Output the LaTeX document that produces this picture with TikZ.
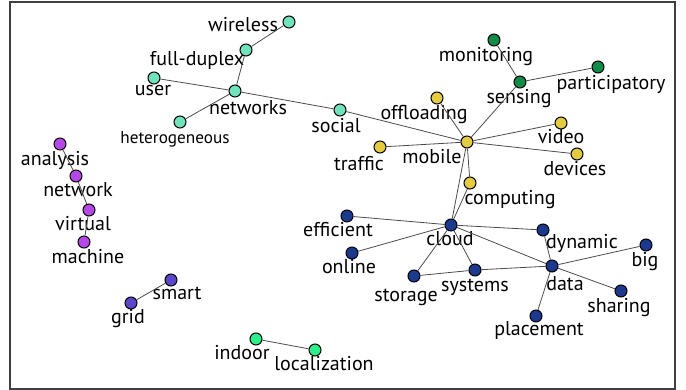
\documentclass[tikz,border=0pt]{standalone}
\usepackage{fontspec}
\setmainfont{PT Sans}
\usepackage{tikz}
\usetikzlibrary{shapes,arrows}

\definecolor{cnet}{HTML}{6FE3BC}
\definecolor{cmob}{HTML}{E3CC3F}
\definecolor{csen}{HTML}{0E8C48}
\definecolor{ccld}{HTML}{1B3A8E}
\definecolor{cvir}{HTML}{B648E8}
\definecolor{cgrd}{HTML}{5B45C8}
\definecolor{cloc}{HTML}{2EF08A}

\begin{document}
\begin{tikzpicture}[x=0.5pt,y=-0.5pt,
    vtx/.style={circle,draw=black,line width=0.5pt,inner sep=0pt,minimum size=6pt},
    word/.style={inner sep=0pt,font=\fontsize{10}{12}\selectfont,text height=1.5ex,text depth=0.25ex},
    edge/.style={draw=black!70,line width=0.4pt}]
    \useasboundingbox (0,0) rectangle (686,390);
    % Draw the frame
    \draw [black!75,line width=0.6pt] (10,2) rectangle (675,389);

    % Draw the networks cluster
    \node [vtx,fill=cnet] (wireless) at (289,22) {};
    \node [vtx,fill=cnet] (fullduplex) at (246,50) {};
    \node [vtx,fill=cnet] (user) at (154,78) {};
    \node [vtx,fill=cnet] (networks) at (235,91) {};
    \node [vtx,fill=cnet] (hetero) at (180,122) {};
    \node [vtx,fill=cnet] (social) at (340,110) {};
    \node [word] (t-wireless) at (243,25) {wireless};
    \node [word] (t-fullduplex) at (197,59) {full-duplex};
    \node [word] (t-user) at (153,89) {user};
    \node [word] (t-networks) at (248,108) {networks};
    \node [word,font=\fontsize{8.6}{10}\selectfont] (t-hetero) at (175,137) {heterogeneous};
    \node [word] (t-social) at (336,126) {social};

    % Draw the virtual machine chain
    \node [vtx,fill=cvir] (analysis) at (60,144) {};
    \node [vtx,fill=cvir] (network) at (76,176) {};
    \node [vtx,fill=cvir] (virtual) at (89,210) {};
    \node [vtx,fill=cvir] (machine) at (84,242) {};
    \node [word] (t-analysis) at (55,159) {analysis};
    \node [word] (t-network) at (78,190) {network};
    \node [word] (t-virtual) at (83,224) {virtual};
    \node [word] (t-machine) at (88,257) {machine};

    % Draw the small pairs
    \node [vtx,fill=cgrd] (smart) at (171,280) {};
    \node [vtx,fill=cgrd] (grid) at (131,303) {};
    \node [word] (t-smart) at (177,293) {smart};
    \node [word] (t-grid) at (128,317) {grid};
    \node [vtx,fill=cloc] (indoor) at (256,339) {};
    \node [vtx,fill=cloc] (localization) at (315,350) {};
    \node [word] (t-indoor) at (242,353) {indoor};
    \node [word] (t-localization) at (324,364) {localization};

    % Draw the sensing cluster
    \node [vtx,fill=csen] (monitoring) at (494,40) {};
    \node [vtx,fill=csen] (sensing) at (520,82) {};
    \node [vtx,fill=csen] (participatory) at (598,67) {};
    \node [word] (t-monitoring) at (486,55) {monitoring};
    \node [word] (t-sensing) at (519,97) {sensing};
    \node [word] (t-participatory) at (611,83) {participatory};

    % Draw the mobile cluster
    \node [vtx,fill=cmob] (offloading) at (437,98) {};
    \node [vtx,fill=cmob] (mobile) at (467,142) {};
    \node [vtx,fill=cmob] (traffic) at (380,147) {};
    \node [vtx,fill=cmob] (video) at (561,123) {};
    \node [vtx,fill=cmob] (devices) at (577,154) {};
    \node [vtx,fill=cmob] (computing) at (470,183) {};
    \node [word] (t-offloading) at (424,113) {offloading};
    \node [word] (t-mobile) at (432,157) {mobile};
    \node [word] (t-traffic) at (359,164) {traffic};
    \node [word] (t-video) at (561,137) {video};
    \node [word] (t-devices) at (575,169) {devices};
    \node [word] (t-computing) at (510,198) {computing};

    % Draw the cloud cluster
    \node [vtx,fill=ccld] (efficient) at (347,216) {};
    \node [vtx,fill=ccld] (cloud) at (451,225) {};
    \node [vtx,fill=ccld] (dynamic) at (543,230) {};
    \node [vtx,fill=ccld] (big) at (646,245) {};
    \node [vtx,fill=ccld] (online) at (352,253) {};
    \node [vtx,fill=ccld] (storage) at (414,276) {};
    \node [vtx,fill=ccld] (systems) at (475,270) {};
    \node [vtx,fill=ccld] (data) at (552,266) {};
    \node [vtx,fill=ccld] (sharing) at (621,291) {};
    \node [vtx,fill=ccld] (placement) at (536,316) {};
    \node [word] (t-efficient) at (338,230) {efficient};
    \node [word] (t-cloud) at (450,239) {cloud};
    \node [word] (t-dynamic) at (582,242) {dynamic};
    \node [word] (t-big) at (645,260) {big};
    \node [word] (t-online) at (349,267) {online};
    \node [word] (t-storage) at (406,295) {storage};
    \node [word] (t-systems) at (475,285) {systems};
    \node [word] (t-data) at (565,284) {data};
    \node [word] (t-sharing) at (619,306) {sharing};
    \node [word] (t-placement) at (539,329) {placement};

    % Draw the edges
    \draw [edge] (wireless) -- (fullduplex) -- (networks);
    \draw [edge] (user) -- (networks) -- (social) -- (mobile);
    \draw [edge] (hetero) -- (networks);
    \draw [edge] (analysis) -- (network) -- (virtual) -- (machine);
    \draw [edge] (smart) -- (grid);
    \draw [edge] (indoor) -- (localization);
    \draw [edge] (monitoring) -- (sensing) -- (participatory);
    \draw [edge] (sensing) -- (mobile);
    \draw [edge] (offloading) -- (mobile);
    \draw [edge] (traffic) -- (mobile);
    \draw [edge] (video) -- (mobile);
    \draw [edge] (devices) -- (mobile);
    \draw [edge] (computing) -- (mobile);
    \draw [edge] (mobile) -- (cloud);
    \draw [edge] (computing) -- (cloud);
    \draw [edge] (efficient) -- (cloud);
    \draw [edge] (online) -- (cloud);
    \draw [edge] (cloud) -- (dynamic) -- (data);
    \draw [edge] (cloud) -- (data);
    \draw [edge] (cloud) -- (storage) -- (systems) -- (data);
    \draw [edge] (cloud) -- (systems);
    \draw [edge] (data) -- (big);
    \draw [edge] (data) -- (sharing);
    \draw [edge] (data) -- (placement);
\end{tikzpicture}
\end{document}
